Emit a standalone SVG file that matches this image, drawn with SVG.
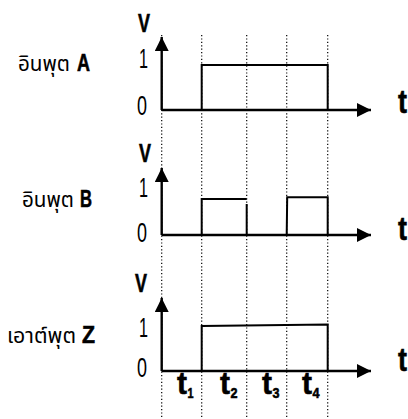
<svg xmlns="http://www.w3.org/2000/svg" width="408" height="419" viewBox="0 0 408 419">
<style>
.grid{stroke:#000;stroke-width:1.2;stroke-dasharray:1.2 2.2;fill:none}
.axis{stroke:#000;stroke-width:2.4;fill:none}
.wave{stroke:#000;stroke-width:2;fill:none}
.lbl{font-family:"Liberation Sans",Arial,sans-serif;fill:#000}
.bold{font-weight:bold;stroke:#000;stroke-width:0.6}
.thai{font-family:"Noto Sans","Noto Sans Thai","Liberation Sans",sans-serif;font-size:22px;fill:#000}
</style>
<defs>
<marker id="ah" viewBox="0 0 14 14" refX="14" refY="7" markerWidth="14" markerHeight="14" markerUnits="userSpaceOnUse" orient="auto">
<path d="M0,0 L14,7 L0,14 Z" fill="#000"/>
</marker>
</defs>
<rect width="408" height="419" fill="#fff"/>
<g id="grid">
<line class="grid" x1="161.7" y1="35" x2="161.7" y2="419"/>
<line class="grid" x1="201.7" y1="35" x2="201.7" y2="419"/>
<line class="grid" x1="246.7" y1="35" x2="246.7" y2="419"/>
<line class="grid" x1="286.7" y1="35" x2="286.7" y2="419"/>
<line class="grid" x1="327.7" y1="35" x2="327.7" y2="419"/>
</g>
<g id="connectors">
<line class="axis" x1="161.7" y1="110" x2="161.7" y2="37" marker-end="url(#ah)"/>
<line class="axis" x1="161.7" y1="110" x2="371" y2="110" marker-end="url(#ah)"/>
<line class="axis" x1="161.7" y1="235" x2="161.7" y2="168" marker-end="url(#ah)"/>
<line class="axis" x1="161.7" y1="235" x2="371" y2="235" marker-end="url(#ah)"/>
<line class="axis" x1="161.7" y1="371" x2="161.7" y2="298" marker-end="url(#ah)"/>
<line class="axis" x1="161.7" y1="371" x2="371" y2="371" marker-end="url(#ah)"/>
</g>
<g id="waveA">
<polyline class="wave" points="201.7,110 201.7,65 327.7,65 327.7,110"/>
</g>
<g id="waveB">
<polyline class="wave" points="201.7,235 201.7,199 246.7,199"/>
<line class="wave" x1="246.7" y1="204" x2="246.7" y2="235"/>
<polyline class="wave" points="286.7,235 287.2,197.3 327.7,197.3 327.7,235"/>
</g>
<g id="waveZ">
<polyline class="wave" points="201.7,371 201.7,326 327.7,324.5 327.7,371"/>
</g>
<g id="labelA">
<text class="thai" x="18" y="71" textLength="52" lengthAdjust="spacingAndGlyphs">อินพุต</text>
<text class="lbl bold" x="77" y="71" font-size="23" textLength="13" lengthAdjust="spacingAndGlyphs">A</text>
<text class="lbl bold" x="138" y="32" font-size="25" textLength="12" lengthAdjust="spacingAndGlyphs">V</text>
<text class="lbl" x="139" y="68" font-size="28" textLength="9" lengthAdjust="spacingAndGlyphs">1</text>
<text class="lbl" x="137" y="115" font-size="28" textLength="10" lengthAdjust="spacingAndGlyphs">0</text>
<text class="lbl bold" x="398" y="113" font-size="34" textLength="9" lengthAdjust="spacingAndGlyphs">t</text>
</g>
<g id="labelB">
<text class="thai" x="22" y="207" textLength="52" lengthAdjust="spacingAndGlyphs">อินพุต</text>
<text class="lbl bold" x="80" y="207" font-size="23" textLength="12" lengthAdjust="spacingAndGlyphs">B</text>
<text class="lbl bold" x="139" y="162" font-size="25" textLength="12" lengthAdjust="spacingAndGlyphs">V</text>
<text class="lbl" x="139" y="197" font-size="28" textLength="9" lengthAdjust="spacingAndGlyphs">1</text>
<text class="lbl" x="137" y="242" font-size="28" textLength="10" lengthAdjust="spacingAndGlyphs">0</text>
<text class="lbl bold" x="398" y="240" font-size="34" textLength="9" lengthAdjust="spacingAndGlyphs">t</text>
</g>
<g id="labelZ">
<text class="thai" x="7" y="343" textLength="69" lengthAdjust="spacingAndGlyphs">เอาต์พุต</text>
<text class="lbl bold" x="82" y="343" font-size="23" textLength="13" lengthAdjust="spacingAndGlyphs">Z</text>
<text class="lbl bold" x="135" y="292" font-size="25" textLength="12" lengthAdjust="spacingAndGlyphs">V</text>
<text class="lbl" x="139" y="337" font-size="28" textLength="9" lengthAdjust="spacingAndGlyphs">1</text>
<text class="lbl" x="137" y="377" font-size="28" textLength="10" lengthAdjust="spacingAndGlyphs">0</text>
<text class="lbl bold" x="398" y="371" font-size="34" textLength="9" lengthAdjust="spacingAndGlyphs">t</text>
</g>
<g id="timeLabels">
<text class="lbl bold" x="177" y="394" font-size="32" textLength="10" lengthAdjust="spacingAndGlyphs">t</text>
<text class="lbl bold" x="187.5" y="398" font-size="15" textLength="6" lengthAdjust="spacingAndGlyphs">1</text>
<text class="lbl bold" x="220" y="394" font-size="32" textLength="10" lengthAdjust="spacingAndGlyphs">t</text>
<text class="lbl bold" x="230.5" y="398" font-size="15" textLength="7" lengthAdjust="spacingAndGlyphs">2</text>
<text class="lbl bold" x="262" y="394" font-size="32" textLength="10" lengthAdjust="spacingAndGlyphs">t</text>
<text class="lbl bold" x="272.5" y="398" font-size="15" textLength="7" lengthAdjust="spacingAndGlyphs">3</text>
<text class="lbl bold" x="302" y="394" font-size="32" textLength="10" lengthAdjust="spacingAndGlyphs">t</text>
<text class="lbl bold" x="312.5" y="398" font-size="15" textLength="7" lengthAdjust="spacingAndGlyphs">4</text>
</g>
</svg>
